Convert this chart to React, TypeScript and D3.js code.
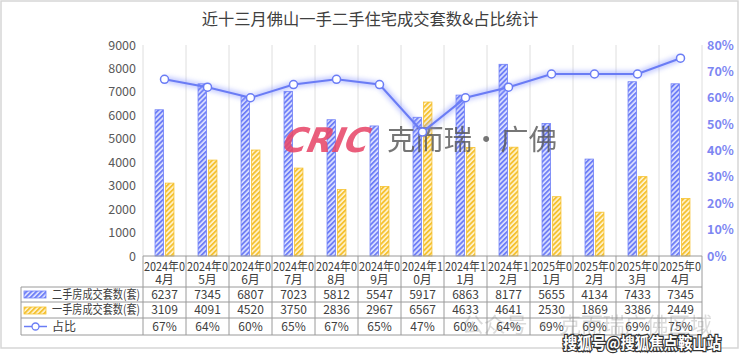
import React from "react";
import * as d3 from "d3";

const categories = [
  "2024年04月", "2024年05月", "2024年06月", "2024年07月", "2024年08月", "2024年09月",
  "2024年10月", "2024年11月", "2024年12月", "2025年01月", "2025年02月", "2025年03月", "2025年04月",
];
const secondHand = [6237, 7345, 6807, 7023, 5812, 5547, 5917, 6863, 8177, 5655, 4134, 7433, 7345];
const firstHand = [3109, 4091, 4520, 3750, 2836, 2967, 6567, 4633, 4641, 2530, 1869, 3386, 2449];
const ratio = [67, 64, 60, 65, 67, 65, 47, 60, 64, 69, 69, 69, 75];
const leftTicks = [0, 1000, 2000, 3000, 4000, 5000, 6000, 7000, 8000, 9000];
const rightTicks = [0, 10, 20, 30, 40, 50, 60, 70, 80];
const seriesNames = ["二手房成交套数(套)", "一手房成交套数(套)", "占比"];
const title = "近十三月佛山一手二手住宅成交套数&占比统计";

const W = 740, H = 357;
const L = 143, R = 702, T = 45, B = 256;
const rowY = [287, 302, 318, 335];
const tableLeft = 21;
const BLUE = "#6f7ff7";
const YELLOW = "#f5c232";
const FONT = "'Noto Sans CJK SC', 'Noto Sans', sans-serif";

export default function App() {
  const x = d3.scaleBand<string>().domain(categories).range([L, R]).padding(0);
  const bw = x.bandwidth();
  const inner = d3.scaleBand<string>().domain(["s", "f"]).range([bw * 0.28, bw * 0.72]).paddingInner(0.2);
  const yL = d3.scaleLinear().domain([0, 9000]).range([B, T]);
  const yR = d3.scaleLinear().domain([0, 80]).range([B, T]);
  const line = d3.line<number>()
    .x((_, i) => (x(categories[i]) as number) + bw / 2)
    .y((d) => yR(d));
  const pathD = line(ratio) as string;
  const bounds = categories.map((c) => x(c) as number).concat([R]);

  return (
    <svg width={W} height={H} style={{ position: "absolute", left: 0, top: 0, background: "#fff" }} fontFamily={FONT}>
      <defs>
        <pattern id="pb" patternUnits="userSpaceOnUse" width="3.5" height="3.5" patternTransform="rotate(45)">
          <rect width="3.5" height="3.5" fill="#dfe3ff" />
          <rect width="1.9" height="3.5" fill={BLUE} />
        </pattern>
        <pattern id="py" patternUnits="userSpaceOnUse" width="3.5" height="3.5" patternTransform="rotate(45)">
          <rect width="3.5" height="3.5" fill="#fff4d4" />
          <rect width="1.9" height="3.5" fill={YELLOW} />
        </pattern>
        <filter id="glow" x="-10%" y="-50%" width="120%" height="200%">
          <feGaussianBlur stdDeviation="2.5" />
        </filter>
      </defs>
      <rect x={1} y={1} width={W - 3} height={H - 10} fill="#fff" stroke="#d6d6d6" strokeWidth={1.5} />
      <text x={370} y={25} textAnchor="middle" fontSize={16.3} fill="#404040">{title}</text>

      {/* vertical gridlines */}
      {bounds.map((bx, i) => (
        <line key={"g" + i} x1={bx} x2={bx} y1={T} y2={B} stroke="#dedede" strokeWidth={1} />
      ))}

      {/* left axis */}
      {leftTicks.map((t) => (
        <text key={"l" + t} x={136} y={yL(t) + 4.5} textAnchor="end" fontSize={12.5} fill="#595959">{t}</text>
      ))}
      {/* right axis */}
      {rightTicks.map((t) => (
        <text key={"r" + t} x={707} y={yR(t) + 4.5} textAnchor="start" fontSize={12.5} fontWeight="bold" fill="#7d86f2">{t}%</text>
      ))}

      {/* bars */}
      {categories.map((c, i) => {
        const x0 = x(c) as number;
        return (
          <g key={"b" + i}>
            <rect x={x0 + (inner("s") as number)} y={yL(secondHand[i])} width={inner.bandwidth()} height={B - yL(secondHand[i])}
              fill="url(#pb)" stroke={BLUE} strokeWidth={0.8} />
            <rect x={x0 + (inner("f") as number)} y={yL(firstHand[i])} width={inner.bandwidth()} height={B - yL(firstHand[i])}
              fill="url(#py)" stroke={YELLOW} strokeWidth={0.8} />
          </g>
        );
      })}

      {/* watermark logo */}
      <g transform="translate(279,152) skewX(-22)">
        <text x={0} y={0} fontSize={34} fontWeight="900" fill="#e8486a" opacity={0.88}
          fontFamily="'DejaVu Sans', sans-serif" textLength={86} lengthAdjust="spacingAndGlyphs">CRIC</text>
      </g>
      <text x={387} y={150} fontSize={28} fill="#555" opacity={0.8} textLength={170} lengthAdjust="spacingAndGlyphs">克而瑞·广佛</text>

      {/* line with glow */}
      <path d={pathD} fill="none" stroke="#8f9bff" strokeWidth={6} opacity={0.55} filter="url(#glow)" />
      <path d={pathD} fill="none" stroke="#6a7cf5" strokeWidth={2} />
      {ratio.map((v, i) => (
        <circle key={"c" + i} cx={(x(categories[i]) as number) + bw / 2} cy={yR(v)} r={4} fill="#fff" stroke="#6a7cf5" strokeWidth={1.5} />
      ))}

      {/* table */}
      <g stroke="#9a9a9a" strokeWidth={1}>
        <line x1={L} x2={R} y1={B} y2={B} />
        {rowY.map((ry, i) => (
          <line key={"h" + i} x1={tableLeft} x2={R} y1={ry} y2={ry} />
        ))}
        {bounds.map((bx, i) => (
          <line key={"tv" + i} x1={bx} x2={bx} y1={B} y2={rowY[3]} />
        ))}
        <line x1={tableLeft} x2={tableLeft} y1={rowY[0]} y2={rowY[3]} />
      </g>
      {categories.map((c, i) => {
        const cx = (x(c) as number) + bw / 2;
        return (
          <g key={"t" + i} fontSize={12} fill="#404040" textAnchor="middle">
            <text x={cx} y={270.5} textLength={41} lengthAdjust="spacingAndGlyphs">{c.slice(0, 6)}</text>
            <text x={cx} y={283.5}>{c.slice(6)}</text>
            <text x={cx} y={rowY[0] + 12}>{secondHand[i]}</text>
            <text x={cx} y={rowY[1] + 12}>{firstHand[i]}</text>
            <text x={cx} y={rowY[2] + 12.5}>{ratio[i]}%</text>
          </g>
        );
      })}
      {/* legend in table */}
      <rect x={24} y={291} width={22} height={7} fill="url(#pb)" stroke={BLUE} strokeWidth={0.8} />
      <rect x={24} y={307} width={22} height={7} fill="url(#py)" stroke={YELLOW} strokeWidth={0.8} />
      <line x1={24} x2={47} y1={326.5} y2={326.5} stroke="#6a7cf5" strokeWidth={1.5} />
      <circle cx={35.5} cy={326.5} r={3.5} fill="#fff" stroke="#6a7cf5" strokeWidth={1.3} />
      <g fontSize={12} fill="#404040">
        <text x={52} y={rowY[0] + 12} textLength={88} lengthAdjust="spacingAndGlyphs">{seriesNames[0]}</text>
        <text x={52} y={rowY[1] + 12} textLength={88} lengthAdjust="spacingAndGlyphs">{seriesNames[1]}</text>
        <text x={52} y={rowY[2] + 12.5}>{seriesNames[2]}</text>
      </g>

      {/* bottom watermarks */}
      <text x={462} y={332} fontSize={21} fill="#888" opacity={0.3} textLength={250} lengthAdjust="spacingAndGlyphs">公众号 · 克而瑞广佛区域</text>
      <text x={563} y={349} fontSize={16} fontWeight="bold" fill="#fff" stroke="#333" strokeWidth={2.5} paintOrder="stroke" textLength={158} lengthAdjust="spacingAndGlyphs">搜狐号@搜狐焦点鞍山站</text>
    </svg>
  );
}
